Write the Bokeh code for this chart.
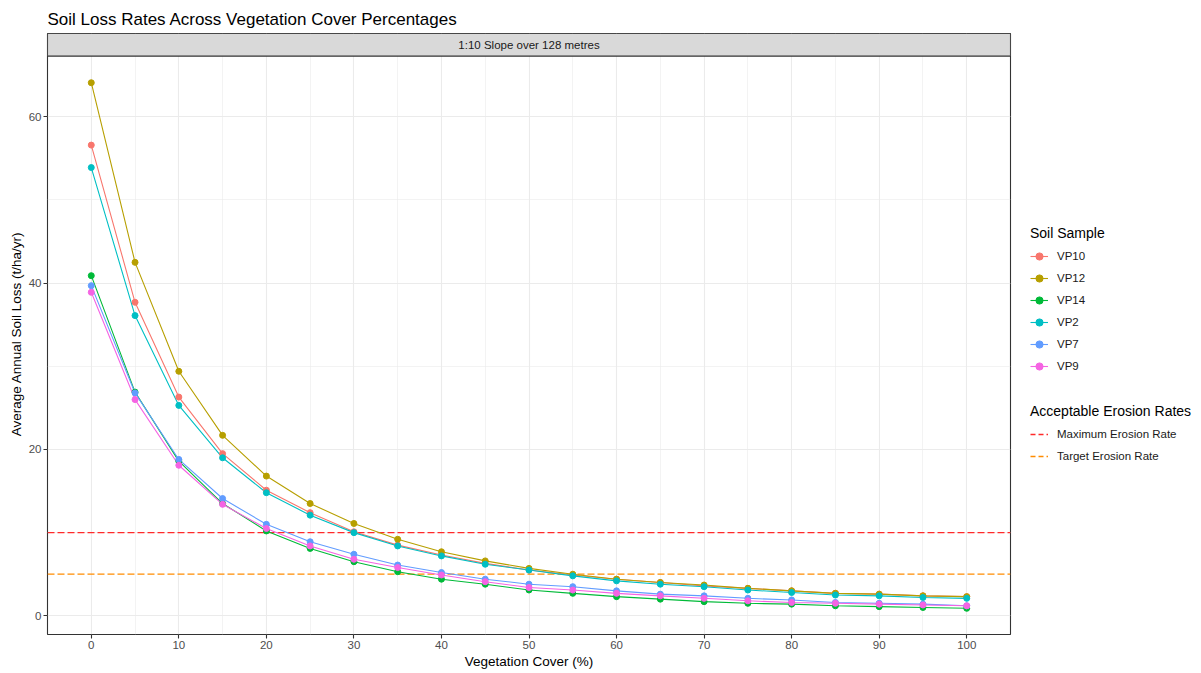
from bokeh.plotting import figure
from bokeh.models import Range1d, FixedTicker, Legend, LegendItem
from bokeh.layouts import row
from bokeh.core.properties import value
from bokeh.embed import file_html
from bokeh.resources import INLINE

# ---- data ----
veg_cover = [0, 5, 10, 15, 20, 25, 30, 35, 40, 45, 50, 55, 60, 65, 70, 75, 80, 85, 90, 95, 100]
samples = ["VP10", "VP12", "VP14", "VP2", "VP7", "VP9"]
vp10 = [56.6, 37.7, 26.3, 19.5, 15.1, 12.4, 10.1, 8.5, 7.3, 6.3, 5.5, 4.9, 4.4, 4.0, 3.6, 3.3, 3.0, 2.7, 2.6, 2.4, 2.3]
vp12 = [64.1, 42.5, 29.4, 21.7, 16.8, 13.5, 11.1, 9.2, 7.7, 6.6, 5.7, 5.0, 4.4, 4.0, 3.7, 3.3, 3.0, 2.7, 2.6, 2.4, 2.3]
vp14 = [40.9, 26.9, 18.6, 13.5, 10.2, 8.1, 6.5, 5.3, 4.4, 3.8, 3.1, 2.7, 2.3, 2.0, 1.7, 1.5, 1.4, 1.2, 1.1, 1.0, 0.9]
vp2 = [53.9, 36.1, 25.3, 19.0, 14.8, 12.1, 10.0, 8.4, 7.2, 6.2, 5.5, 4.8, 4.2, 3.8, 3.5, 3.1, 2.8, 2.5, 2.4, 2.2, 2.1]
vp7 = [39.7, 26.8, 18.8, 14.1, 11.0, 8.9, 7.4, 6.1, 5.2, 4.4, 3.8, 3.5, 3.0, 2.6, 2.4, 2.1, 1.9, 1.6, 1.5, 1.4, 1.2]
vp9 = [38.9, 26.0, 18.1, 13.4, 10.5, 8.4, 6.8, 5.8, 4.9, 4.1, 3.4, 3.1, 2.7, 2.4, 2.1, 1.8, 1.6, 1.5, 1.4, 1.3, 1.2]
series = [vp10, vp12, vp14, vp2, vp7, vp9]
colors = ["#F8766D", "#B79F00", "#00BA38", "#00BFC4", "#619CFF", "#F564E3"]

threshold_names = ["Maximum Erosion Rate", "Target Erosion Rate"]
threshold_values = [10, 5]
threshold_colors = ["#FF2A2A", "#FF8C00"]

x_ticks = [0, 10, 20, 30, 40, 50, 60, 70, 80, 90, 100]
x_minor = [-5, 5, 15, 25, 35, 45, 55, 65, 75, 85, 95, 105]
y_ticks = [0, 20, 40, 60]
y_minor = [10, 30, 50]

title_text = "Soil Loss Rates Across Vegetation Cover Percentages"
strip_text = "1:10 Slope over 128 metres"
x_label = "Vegetation Cover (%)"
y_label = "Average Annual Soil Loss (t/ha/yr)"
legend1_title = "Soil Sample"
legend2_title = "Acceptable Erosion Rates"

FONT = "Liberation Sans"
H = 673

# ranges (panel) and strip extent
x_lo, x_hi = -5, 105
y_lo, y_panel_top, y_top = -2.25, 67.3, 70.02

p = figure(width=1012, height=H,
           x_range=Range1d(x_lo, x_hi), y_range=Range1d(y_lo, y_top),
           output_backend="svg", toolbar_location=None,
           min_border_left=47, min_border_right=2,
           min_border_top=33, min_border_bottom=39)

p.background_fill_color = "white"
p.border_fill_color = "white"
p.outline_line_color = "#333333"
p.outline_line_width = 1.1

# title
p.title.text = title_text
p.title.text_font = FONT
p.title.text_font_size = "17px"
p.title.text_font_style = "normal"
p.title.text_color = "#000000"
p.title.align = "left"
p.title.standoff = 10

# grid
p.xgrid.ticker = FixedTicker(ticks=x_ticks, minor_ticks=x_minor)
p.ygrid.ticker = FixedTicker(ticks=y_ticks, minor_ticks=y_minor)
for g in (p.xgrid, p.ygrid):
    g.grid_line_color = "#EBEBEB"
    g.grid_line_width = 1.1
    g.minor_grid_line_color = "#EBEBEB"
    g.minor_grid_line_width = 0.6

# axes
p.xaxis.ticker = FixedTicker(ticks=x_ticks)
p.yaxis.ticker = FixedTicker(ticks=y_ticks)
for ax in (p.xaxis, p.yaxis):
    ax.axis_line_color = None
    ax.major_tick_line_color = "#333333"
    ax.major_tick_line_width = 1.1
    ax.major_tick_in = 0
    ax.major_tick_out = 4
    ax.minor_tick_line_color = None
    ax.major_label_text_font = FONT
    ax.major_label_text_font_size = "11.5px"
    ax.major_label_text_color = "#4D4D4D"
    ax.major_label_standoff = 2
    ax.axis_label_text_font = FONT
    ax.axis_label_text_font_size = "13.5px"
    ax.axis_label_text_font_style = "normal"
    ax.axis_label_text_color = "#000000"
    ax.axis_label_standoff = 2
p.xaxis.axis_label = x_label
p.yaxis.axis_label = y_label

# strip
p.quad(left=[x_lo], right=[x_hi], bottom=[y_panel_top], top=[y_top],
       fill_color="#D9D9D9", line_color="#333333", line_width=1.1)
p.text(x=[(x_lo + x_hi) / 2], y=[(y_panel_top + y_top) / 2], text=[strip_text],
       text_font=value(FONT), text_font_size="11.5px", text_color="#1A1A1A",
       text_align="center", text_baseline="middle")

# threshold lines
for val, col in zip(threshold_values, threshold_colors):
    p.line(x=[x_lo, x_hi], y=[val, val], line_color=col, line_width=1.3, line_dash="7 3")

# series lines then points
for ys, col in zip(series, colors):
    p.line(x=veg_cover, y=ys, line_color=col, line_width=1.1)
for ys, col in zip(series, colors):
    p.scatter(x=veg_cover, y=ys, size=6, fill_color=col, line_color=col)

# ---- legend panel ----
lg = figure(width=1201 - 1012, height=H, x_range=Range1d(0, 1), y_range=Range1d(0, 1),
            output_backend="svg", toolbar_location=None,
            x_axis_type=None, y_axis_type=None,
            min_border_left=0, min_border_right=0, min_border_top=0, min_border_bottom=0)
lg.outline_line_color = None
lg.xgrid.visible = False
lg.ygrid.visible = False
lg.background_fill_color = "white"
lg.border_fill_color = "white"

nan = float("nan")
items1 = []
for name, col in zip(samples, colors):
    lr = lg.line(x=[nan], y=[nan], line_color=col, line_width=1.1)
    pr = lg.scatter(x=[nan], y=[nan], size=6, fill_color=col, line_color=col)
    items1.append(LegendItem(label=name, renderers=[lr, pr]))
items2 = []
for name, col in zip(threshold_names, threshold_colors):
    r = lg.line(x=[nan], y=[nan], line_color=col, line_width=1.3, line_dash="5 3")
    items2.append(LegendItem(label=name, renderers=[r]))

common = dict(background_fill_alpha=0, border_line_color=None, padding=10,
              spacing=2, glyph_height=20, glyph_width=18, label_height=20,
              label_standoff=9, label_text_font=FONT, label_text_font_size="11.5px",
              label_text_color="#1A1A1A", title_text_font=FONT,
              title_text_font_size="14px", title_text_font_style="normal",
              title_text_color="#000000", title_standoff=5, margin=0)

leg1 = Legend(items=items1, title=legend1_title, location=(18, 258), **common)
leg2 = Legend(items=items2, title=legend2_title, location=(18, 168), **common)
lg.add_layout(leg1, "center")
lg.add_layout(leg2, "center")

layout = row(p, lg)
open("out.html", "w").write(file_html(layout, INLINE))
